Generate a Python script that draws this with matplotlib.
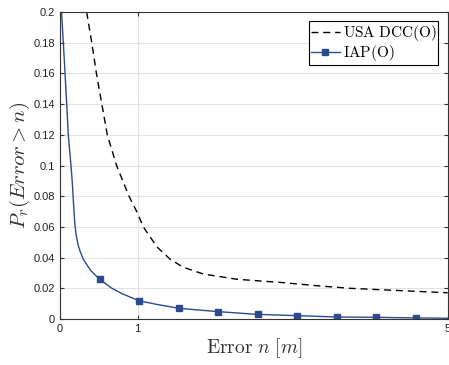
import matplotlib
matplotlib.use("Agg")
import matplotlib.pyplot as plt

plt.rcParams['mathtext.fontset'] = 'cm'
plt.rcParams['font.family'] = ['Liberation Sans', 'DejaVu Sans']

# IAP(O) curve
iap_x = [0.02, 0.06, 0.094, 0.107, 0.142, 0.16, 0.175, 0.19, 0.205, 0.23,
         0.26, 0.30, 0.39, 0.51, 0.67, 0.8, 1.02, 1.25, 1.53, 2.04, 2.55,
         3.06, 3.57, 4.08, 4.59, 5.0]
iap_y = [0.2, 0.165, 0.133, 0.12, 0.1, 0.088, 0.075, 0.063, 0.056, 0.049,
         0.044, 0.039, 0.032, 0.0259, 0.02, 0.0165, 0.0119, 0.0095, 0.007,
         0.0048, 0.003, 0.0022, 0.0013, 0.0011, 0.0007, 0.0005]
iap_marks = [13, 16, 18, 19, 20, 21, 22, 23, 24]

# USA DCC(O) curve
dcc_x = [0.344, 0.41, 0.47, 0.54, 0.61, 0.73, 0.89, 0.99, 1.075, 1.25, 1.42,
         1.59, 1.85, 2.28, 2.88, 3.31, 3.74, 4.17, 5.0]
dcc_y = [0.2, 0.18, 0.16, 0.14, 0.12, 0.1, 0.08, 0.07, 0.06, 0.047, 0.039,
         0.0337, 0.0293, 0.0259, 0.0237, 0.0217, 0.02, 0.019, 0.0171]

yticks = [0, 0.02, 0.04, 0.06, 0.08, 0.1, 0.12, 0.14, 0.16, 0.18, 0.2]
ytick_labels = ['0', '0.02', '0.04', '0.06', '0.08', '0.1', '0.12', '0.14',
                '0.16', '0.18', '0.2']
xticks = [0, 1, 5]

fig = plt.figure(figsize=(4.49, 3.65), dpi=100)
ax = fig.add_axes([0.1336, 0.126, 0.8634, 0.841])

blue = '#2c4a8c'
ax.plot(dcc_x, dcc_y, '--', color='black', lw=1.0, dashes=(5, 3.5),
        label=r'$\mathrm{USA\ DCC(O)}$')
ax.plot(iap_x, iap_y, '-', color=blue, lw=1.0, marker='s', markersize=4,
        markevery=iap_marks, label=r'$\mathrm{IAP(O)}$')

ax.set_xlim(0, 5)
ax.set_ylim(0, 0.2)
ax.set_xticks(xticks)
ax.set_xticklabels([str(t) for t in xticks])
ax.set_yticks(yticks)
ax.set_yticklabels(ytick_labels)
ax.tick_params(direction='in', top=True, right=True, labelsize=8,
               length=3, color='#333333', labelcolor='#222222')
ax.grid(True, color='#e3e3e3', lw=0.8)
ax.set_axisbelow(True)
for s in ax.spines.values():
    s.set_color('#333333')
    s.set_linewidth(0.8)

ax.set_xlabel(r'$\mathrm{Error}\ n\ [m]$', fontsize=14, color='#333333', labelpad=2)
ax.set_ylabel(r'$P_r(Error > n)$', fontsize=15, color='#333333', labelpad=1)

leg = ax.legend(loc='upper right', fontsize=11, handlelength=1.9,
                handletextpad=0.2, borderpad=0.12, labelspacing=0.0,
                fancybox=False, framealpha=1, borderaxespad=0.6)
leg.get_frame().set_edgecolor('black')
leg.get_frame().set_linewidth(0.8)

fig.savefig('out.png', dpi=100)
